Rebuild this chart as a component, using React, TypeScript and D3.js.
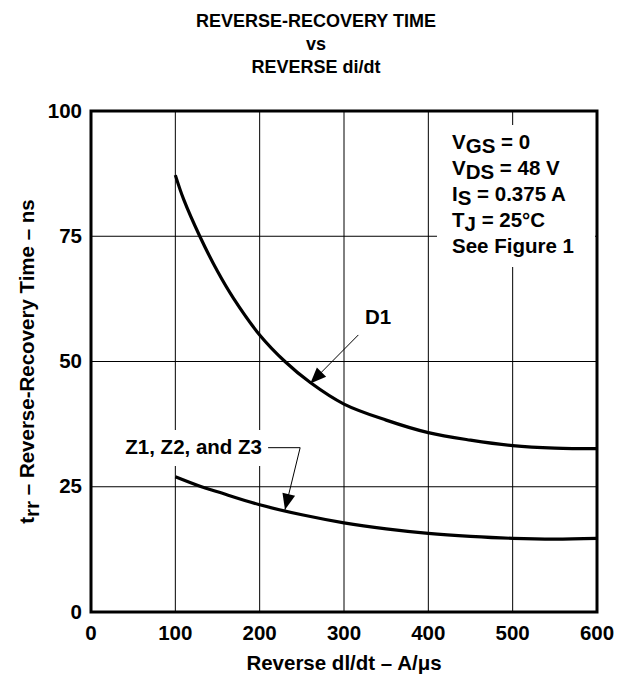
import React from "react";
import * as d3 from "d3";

const xTicks = [0, 100, 200, 300, 400, 500, 600];
const yTicks = [0, 25, 50, 75, 100];

const d1X = [100, 110, 129, 150, 169, 200, 230, 260, 300, 350, 400, 450, 500, 550, 600];
const d1Y = [87.2, 82.3, 75, 68, 62.6, 55.3, 50, 45.8, 41.5, 38.3, 35.8, 34.3, 33.2, 32.7, 32.6];

const zX = [100, 131, 150, 200, 250, 300, 350, 400, 450, 500, 550, 600];
const zY = [27, 25, 24, 21.4, 19.4, 17.8, 16.6, 15.7, 15.1, 14.7, 14.55, 14.7];

const titleLines = ["REVERSE-RECOVERY TIME", "vs", "REVERSE di/dt"];

const W = 631;
const H = 679;
const FONT = "'Liberation Sans', Arial, Helvetica, sans-serif";

export default function App() {
  const left = 91, right = 597, top = 111, bottom = 612;
  const x = d3.scaleLinear().domain([0, 600]).range([left, right]);
  const y = d3.scaleLinear().domain([0, 100]).range([bottom, top]);
  const line = d3
    .line<[number, number]>()
    .x((d) => x(d[0]))
    .y((d) => y(d[1]))
    .curve(d3.curveCatmullRom.alpha(0.5));
  const d1 = d1X.map((v, i) => [v, d1Y[i]] as [number, number]);
  const z = zX.map((v, i) => [v, zY[i]] as [number, number]);

  const arrowHead = (x1: number, y1: number, x2: number, y2: number) => {
    const ang = Math.atan2(y2 - y1, x2 - x1);
    const len = 16, half = 6.5;
    const bx = x2 - len * Math.cos(ang), by = y2 - len * Math.sin(ang);
    const px = -Math.sin(ang) * half, py = Math.cos(ang) * half;
    return `M${x2},${y2}L${bx + px},${by + py}L${bx - px},${by - py}Z`;
  };

  const d1Tail = [317, 55.3], d1Tip = [260, 45.6];
  const zStart = [210, 32.8], zCorner = [248, 32.8], zTip = [230, 20.4];
  const fs = 20.5;

  return (
    <svg width={W} height={H} style={{ display: "block", position: "absolute", left: 0, top: 0 }} fontFamily={FONT} fontWeight="bold">
      <rect x={0} y={0} width={W} height={H} fill="#fff" />
      {titleLines.map((t, i) => (
        <text key={i} x={316} y={27 + i * 23} textAnchor="middle" fontSize={18}>{t}</text>
      ))}
      {xTicks.slice(1, -1).map((t) => (
        <line key={"gx" + t} x1={x(t)} x2={x(t)} y1={top} y2={bottom} stroke="#000" strokeWidth={1} />
      ))}
      {yTicks.slice(1, -1).map((t) => (
        <line key={"gy" + t} x1={left} x2={right} y1={y(t)} y2={y(t)} stroke="#000" strokeWidth={1} />
      ))}
      <rect x={437} y={125} width={158} height={142} fill="#fff" />
      <rect x={117} y={430} width={149} height={36} fill="#fff" />
      <path d={line(d1) || ""} fill="none" stroke="#000" strokeWidth={3.2} />
      <path d={line(z) || ""} fill="none" stroke="#000" strokeWidth={3.2} />
      <rect x={left} y={top} width={right - left} height={bottom - top} fill="none" stroke="#000" strokeWidth={3} />
      {yTicks.map((t) => (
        <text key={"yt" + t} x={left - 9} y={y(t) + 6.5} textAnchor="end" fontSize={fs}>{t}</text>
      ))}
      {xTicks.map((t) => (
        <text key={"xt" + t} x={x(t)} y={bottom + 28} textAnchor="middle" fontSize={fs}>{t}</text>
      ))}
      <text x={344} y={670} textAnchor="middle" fontSize={fs}>Reverse dl/dt – A/μs</text>
      <text transform={`translate(34,${y(50)}) rotate(-90)`} textAnchor="middle" fontSize={fs}>
        t<tspan dy={5}>rr</tspan><tspan dy={-5}> – Reverse-Recovery Time – ns</tspan>
      </text>
      <g fontSize={fs}>
        <text x={452} y={149}>V<tspan dy={4}>GS</tspan><tspan dy={-4}> = 0</tspan></text>
        <text x={452} y={175}>V<tspan dy={4}>DS</tspan><tspan dy={-4}> = 48 V</tspan></text>
        <text x={452} y={201}>I<tspan dy={4}>S</tspan><tspan dy={-4}> = 0.375 A</tspan></text>
        <text x={452} y={227}>T<tspan dy={4}>J</tspan><tspan dy={-4}> = 25°C</tspan></text>
        <text x={452} y={253}>See Figure 1</text>
      </g>
      <text x={378} y={324} textAnchor="middle" fontSize={fs}>D1</text>
      <line x1={x(d1Tail[0])} y1={y(d1Tail[1])} x2={x(d1Tip[0])} y2={y(d1Tip[1])} stroke="#000" strokeWidth={1} />
      <path d={arrowHead(x(d1Tail[0]), y(d1Tail[1]), x(d1Tip[0]), y(d1Tip[1]))} fill="#000" />
      <text x={262} y={454} textAnchor="end" fontSize={fs}>Z1, Z2, and Z3</text>
      <polyline
        points={`${x(zStart[0])},${y(zStart[1])} ${x(zCorner[0])},${y(zCorner[1])} ${x(zTip[0])},${y(zTip[1])}`}
        fill="none" stroke="#000" strokeWidth={1}
      />
      <path d={arrowHead(x(zCorner[0]), y(zCorner[1]), x(zTip[0]), y(zTip[1]))} fill="#000" />
    </svg>
  );
}
